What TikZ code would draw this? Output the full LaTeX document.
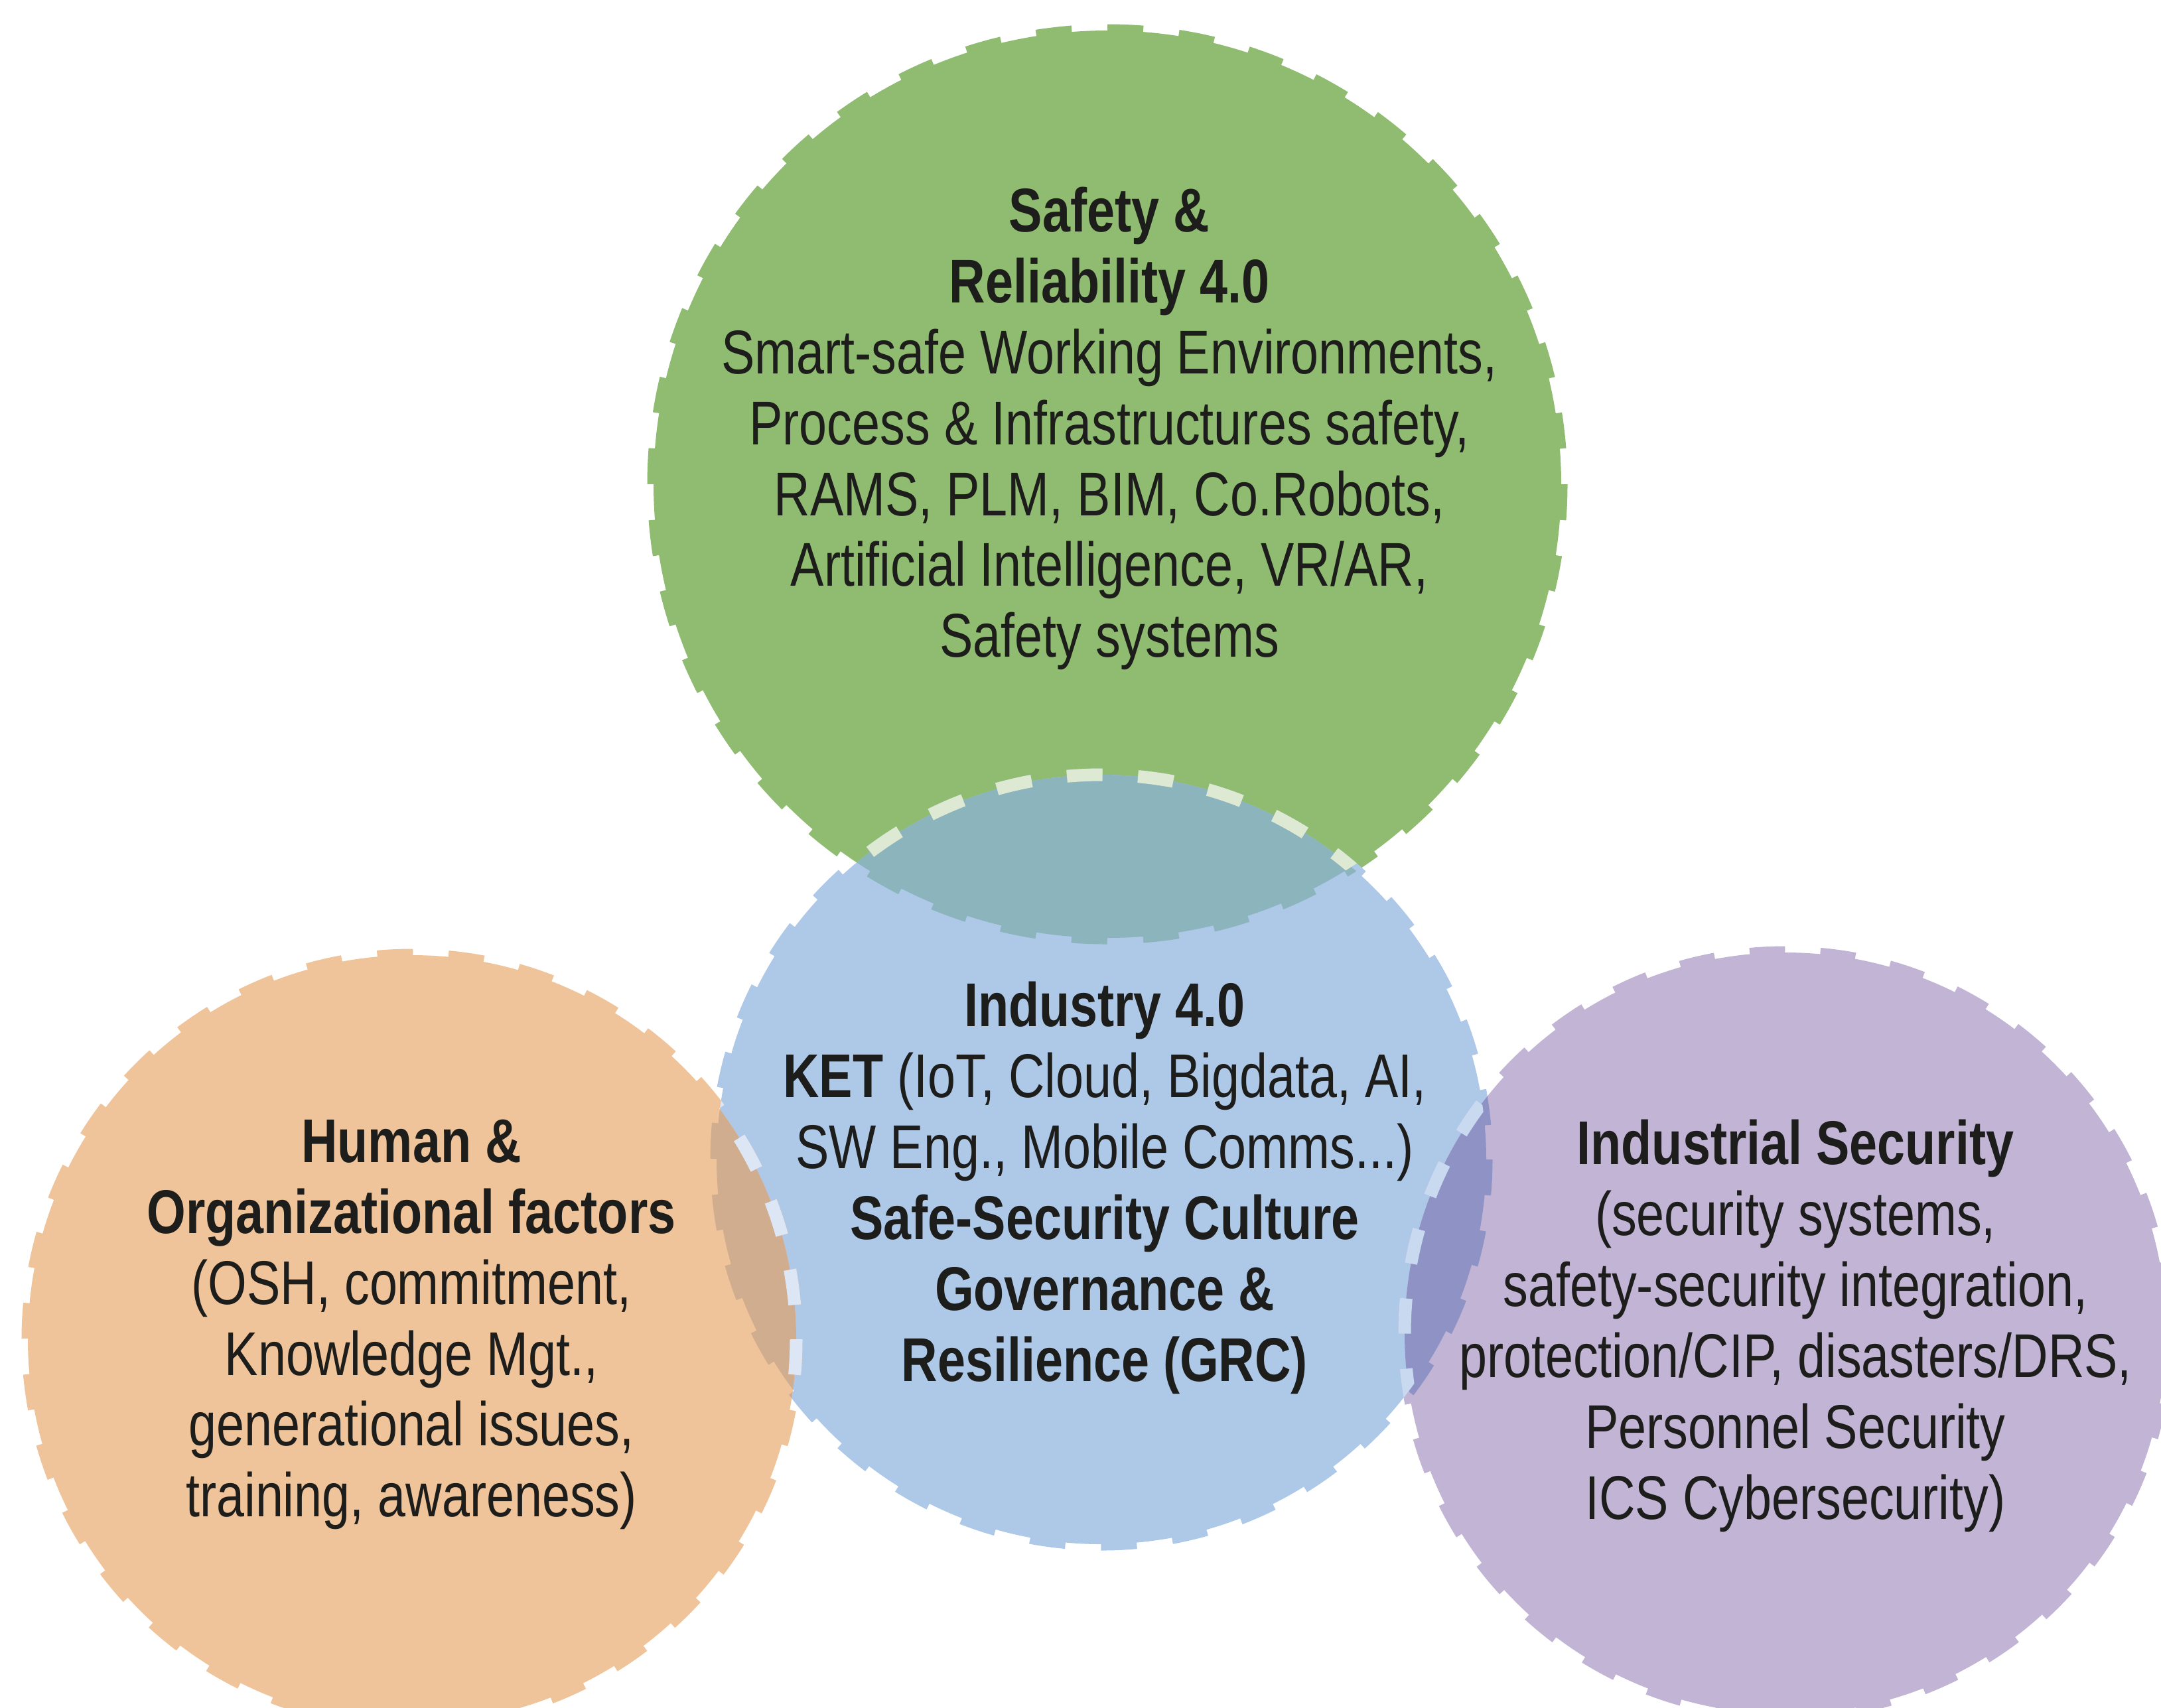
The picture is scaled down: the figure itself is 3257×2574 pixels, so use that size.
\documentclass[tikz,border=0pt]{standalone}
\usepackage{fontspec}
\setmainfont{Liberation Sans}[FakeStretch=0.81]
\definecolor{cgreen}{HTML}{8FBC70}
\definecolor{cblue}{HTML}{AEC8E8}
\definecolor{corange}{HTML}{F0C49A}
\definecolor{cpurple}{HTML}{C2B4D5}
\definecolor{cteal}{HTML}{8CB4BC}
\definecolor{cbrown}{HTML}{D1AD8F}
\definecolor{cdpurple}{HTML}{8E92C5}
\definecolor{lightG}{HTML}{DDE9D3}
\definecolor{lightO}{HTML}{DCE6F4}
\definecolor{lightP}{HTML}{C9DAF0}
\definecolor{txtcol}{HTML}{1D1D1B}
\tikzset{
  ring/.style={line width=0.19cm, dash pattern=on #1 off #1},
  ringG/.style={ring=0.537cm},
  ringB/.style={ring=0.536cm},
  ringO/.style={ring=0.535cm},
  ringP/.style={ring=0.53cm},
  txt/.style={align=center, text=txtcol, inner sep=0pt,
    font=\fontsize{26.5}{30.4}\selectfont}
}
\begin{document}
\begin{tikzpicture}[x=0.01cm,y=-0.01cm]
\useasboundingbox (0,0) rectangle (3257,2574);
\coordinate (G) at (1669,730);
\coordinate (B) at (1660,1748);
\coordinate (O) at (621,2019);
\coordinate (P) at (2691,2010);
% base circles
\fill[cgreen] (G) circle[radius=684];
\draw[cgreen, ringG] (G) circle[radius=684];
\fill[cblue] (B) circle[radius=580];
\draw[cblue, ringB] (B) circle[radius=580];
\fill[corange] (O) circle[radius=579];
\draw[corange, ringO] (O) circle[radius=579];
\fill[cpurple] (P) circle[radius=574];
\draw[cpurple, ringP] (P) circle[radius=574];
% green / blue overlap
\begin{scope}
  \clip (B) circle[radius=580];
  \fill[cteal] (G) circle[radius=684];
  \draw[cteal, ringG] (G) circle[radius=684];
\end{scope}
\begin{scope}
  \clip (G) circle[radius=684];
  \draw[lightG, ringB] (B) circle[radius=580];
\end{scope}
% orange / blue overlap
\begin{scope}
  \clip (O) circle[radius=579];
  \fill[cbrown] (B) circle[radius=580];
  \draw[cbrown, ringB] (B) circle[radius=580];
\end{scope}
\begin{scope}
  \clip (B) circle[radius=580];
  \draw[lightO, ringO] (O) circle[radius=579];
\end{scope}
% purple / blue overlap
\begin{scope}
  \clip (P) circle[radius=574];
  \fill[cdpurple] (B) circle[radius=580];
  \draw[cdpurple, ringB] (B) circle[radius=580];
\end{scope}
\begin{scope}
  \clip (B) circle[radius=580];
  \draw[lightP, ringP] (P) circle[radius=574];
\end{scope}
% texts
\node[txt] (tG) at (1672,646) {\textbf{Safety \&}\\\textbf{Reliability 4.0}\\Smart-safe Working Environments,\\Process \& Infrastructures safety,\\RAMS, PLM, BIM, Co.Robots,\\Artificial Intelligence, VR/AR,\\Safety systems};
\node[txt] (tB) at (1665,1791) {\textbf{Industry 4.0}\\\textbf{KET} (IoT, Cloud, Bigdata, AI,\\SW Eng., Mobile Comms...)\\\textbf{Safe-Security Culture}\\\textbf{Governance \&}\\\textbf{Resilience (GRC)}};
\node[txt] (tO) at (620,1997) {\textbf{Human \&}\\\textbf{Organizational factors}\\(OSH, commitment,\\Knowledge Mgt.,\\generational issues,\\training, awareness)};
\node[txt] (tP) at (2706,1999) {\textbf{Industrial Security}\\(security systems,\\safety-security integration,\\protection/CIP, disasters/DRS,\\Personnel Security\\ICS Cybersecurity)};
\end{tikzpicture}
\end{document}
